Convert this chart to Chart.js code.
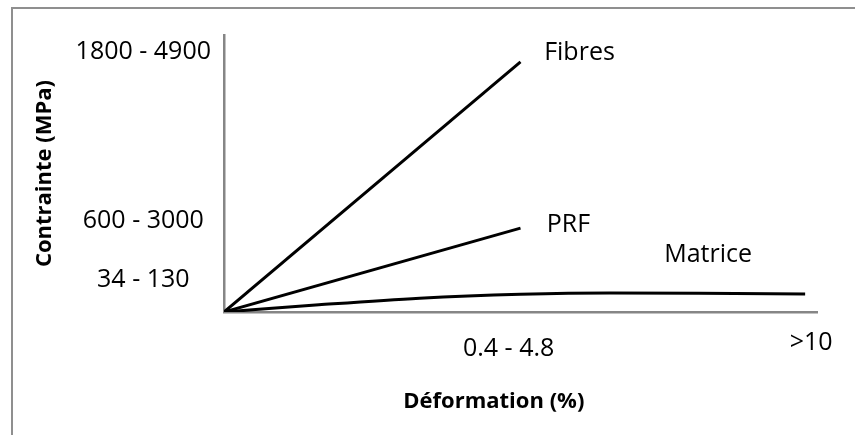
<!DOCTYPE html>
<html>
<head>
<meta charset="utf-8">
<title>Contrainte - Déformation</title>
<script src="https://cdn.jsdelivr.net/npm/chart.js@4/dist/chart.umd.min.js"></script>
<style>
  html, body { margin: 0; padding: 0; background: #fff; }
  #wrap { position: relative; width: 855px; height: 435px; overflow: hidden; }
  #frame {
    position: absolute; left: 11px; top: 7px; width: 1000px; height: 1000px;
    border: 2px solid #8f8f8f; pointer-events: none;
  }
</style>
</head>
<body>
<div id="wrap">
  <canvas id="chart"></canvas>
  <div id="frame"></div>
</div>
<script>
// Curves (x = strain units, y = stress units, arbitrary scale)
const fibresStrain = [0, 5];
const fibresStress = [0, 90.3];
const prfStrain = [0, 5];
const prfStress = [0, 30.3];
const matriceStrain = [0, 1.6, 3.3, 5, 6.5, 8, 9.8];
const matriceStress = [0, 2.6, 5.0, 6.4, 6.9, 6.8, 6.5];

// Tick labels and where they sit on each axis
const yTickValues = [94, 33, 11.5];
const yTickLabels = ['1800 - 4900', '600 - 3000', '34 - 130'];
const xTickValues = [4.8, 9.9];
const xTickLabels = ['0.4 - 4.8', '>10'];

const seriesNames = ['Fibres', 'PRF', 'Matrice'];

const FONT = "'Open Sans', 'Noto Sans', sans-serif";

const toPoints = (xs, ys) => xs.map((x, i) => ({ x: x, y: ys[i] }));

// Label offsets (px) from the last point of each series
const labelOffsets = {
  Fibres: [59, -9],
  PRF: [48, -3],
  Matrice: [-97, -39]
};

// Draw the curve names and the x axis title
const textLabels = {
  id: 'textLabels',
  afterDatasetsDraw(chart) {
    const ctx = chart.ctx;
    const xs = chart.scales.x;
    ctx.save();
    ctx.fillStyle = '#000';
    ctx.textAlign = 'center';
    ctx.textBaseline = 'middle';
    ctx.font = '25px ' + FONT;
    chart.data.datasets.forEach((ds, i) => {
      const meta = chart.getDatasetMeta(i);
      const last = meta.data[meta.data.length - 1];
      const off = labelOffsets[ds.label];
      ctx.fillText(ds.label, last.x + off[0], last.y + off[1]);
    });
    ctx.font = 'bold 22px ' + FONT;
    ctx.fillText('Déformation (%)', xs.getPixelForValue(4.55), xs.bottom - 33);
    ctx.restore();
  }
};

const datasets = [
  { label: seriesNames[0], data: toPoints(fibresStrain, fibresStress) },
  { label: seriesNames[1], data: toPoints(prfStrain, prfStress) },
  { label: seriesNames[2], data: toPoints(matriceStrain, matriceStress), cubicInterpolationMode: 'monotone' }
].map(ds => Object.assign({
  borderColor: '#000',
  borderWidth: 3,
  pointRadius: 0,
  fill: false
}, ds));

new Chart(document.getElementById('chart'), {
  type: 'line',
  data: { datasets: datasets },
  options: {
    responsive: true,
    maintainAspectRatio: false,
    animation: false,
    layout: { padding: { top: 35, right: 38, left: 0, bottom: 0 } },
    plugins: {
      legend: { display: false },
      tooltip: { enabled: false }
    },
    scales: {
      x: {
        type: 'linear',
        min: 0,
        max: 10,
        grid: { display: false, drawTicks: false },
        border: { display: true, color: '#868686', width: 2.5 },
        afterBuildTicks: scale => { scale.ticks = xTickValues.map(v => ({ value: v })); },
        afterFit: scale => { scale.height = 123; },
        ticks: {
          autoSkip: false,
          maxRotation: 0,
          padding: 22,
          color: '#000',
          font: c => ({ family: FONT, size: 25, lineHeight: c.index === 1 ? 0.7 : 1.2 }),
          callback: (value, index) => xTickLabels[index]
        }
      },
      y: {
        type: 'linear',
        min: 0,
        max: 100,
        grid: { display: false, drawTicks: false },
        border: { display: true, color: '#868686', width: 2.5 },
        afterBuildTicks: scale => { scale.ticks = yTickValues.map(v => ({ value: v })); },
        afterFit: scale => { scale.width = 224; },
        title: {
          display: true,
          text: 'Contrainte (MPa)',
          color: '#000',
          font: { family: FONT, size: 22, weight: 'bold' },
          padding: { top: 32, bottom: 0 }
        },
        ticks: {
          autoSkip: false,
          crossAlign: 'center',
          padding: 13,
          color: '#000',
          font: { family: FONT, size: 25 },
          callback: (value, index) => yTickLabels[index]
        }
      }
    }
  },
  plugins: [textLabels]
});
</script>
</body>
</html>
